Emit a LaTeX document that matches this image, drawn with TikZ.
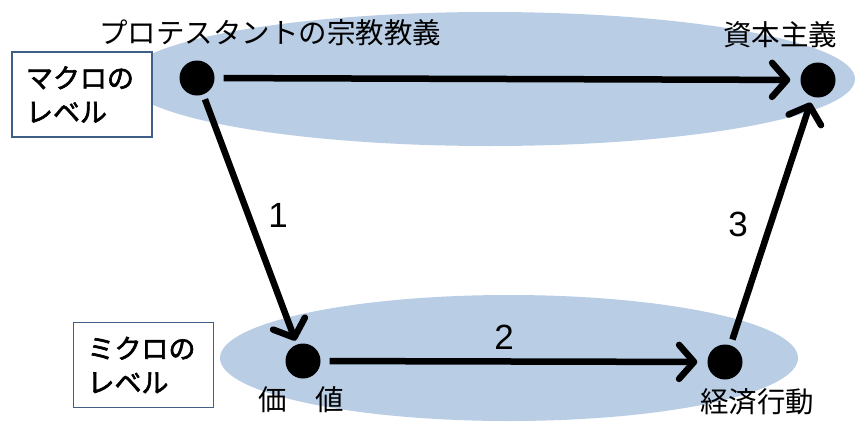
\documentclass[tikz,border=0pt]{standalone}
\usepackage{fontspec}
\setmainfont{Liberation Sans}
\newfontfamily\cjk{Noto Sans CJK JP}
\newfontfamily\cjkb[FakeBold=2.2]{Noto Sans CJK JP}
\usetikzlibrary{arrows.meta}
\definecolor{ellblue}{HTML}{B9CDE5}
\definecolor{boxedge}{HTML}{3F5F86}
\tikzset{
  dotnode/.style={circle,fill=black,minimum size=35pt,inner sep=0pt},
  conn/.style={line width=6.5pt,-{Straight Barb[length=15pt,width=34pt,line cap=round,line join=round]},line cap=butt},
  lbl/.style={font=\cjk\fontsize{28.5}{30}\selectfont,inner sep=0pt},
  numlbl/.style={font=\fontsize{35}{36}\selectfont,inner sep=0pt},
  levelbox/.style={draw=boxedge,line width=1.5pt,fill=white,minimum width=140pt,minimum height=85pt,align=left,text width=112pt,font=\cjkb\fontsize{27}{34}\selectfont,inner sep=0pt}
}
\begin{document}
\begin{tikzpicture}[x=1pt,y=-1pt]
\useasboundingbox (0,0) rectangle (856,426);
\fill[ellblue] (490,79) ellipse [x radius=365pt, y radius=67pt];
\fill[ellblue] (509,358) ellipse [x radius=289pt, y radius=63pt];
\node[levelbox] (macro) at (82,94.5) {マクロの\\レベル};
\node[levelbox] (micro) at (143.5,365) {ミクロの\\レベル};
\node[dotnode] (prot) at (197,78) {};
\node[dotnode] (cap) at (818,80) {};
\node[dotnode] (val) at (303,361) {};
\node[dotnode] (eco) at (725,362) {};
\node[lbl] (tprot) at (270,33) {プロテスタントの宗教教義};
\node[lbl] (tcap) at (780,35) {資本主義};
\node[lbl] (tval) at (301,400) {価　値};
\node[lbl] (teco) at (757,402) {経済行動};
\draw[conn,shorten <=9pt,shorten >=10pt] (prot) -- (cap);
\draw[conn,shorten <=5pt,shorten >=4pt] (prot) -- (val);
\draw[conn,shorten <=9pt,shorten >=10pt] (val) -- (eco);
\draw[conn,shorten <=6pt,shorten >=6pt] (eco) -- (cap);
\node[numlbl] (n1) at (278,215) {1};
\node[numlbl] (n2) at (504,337) {2};
\node[numlbl] (n3) at (738,224) {3};
\end{tikzpicture}
\end{document}
